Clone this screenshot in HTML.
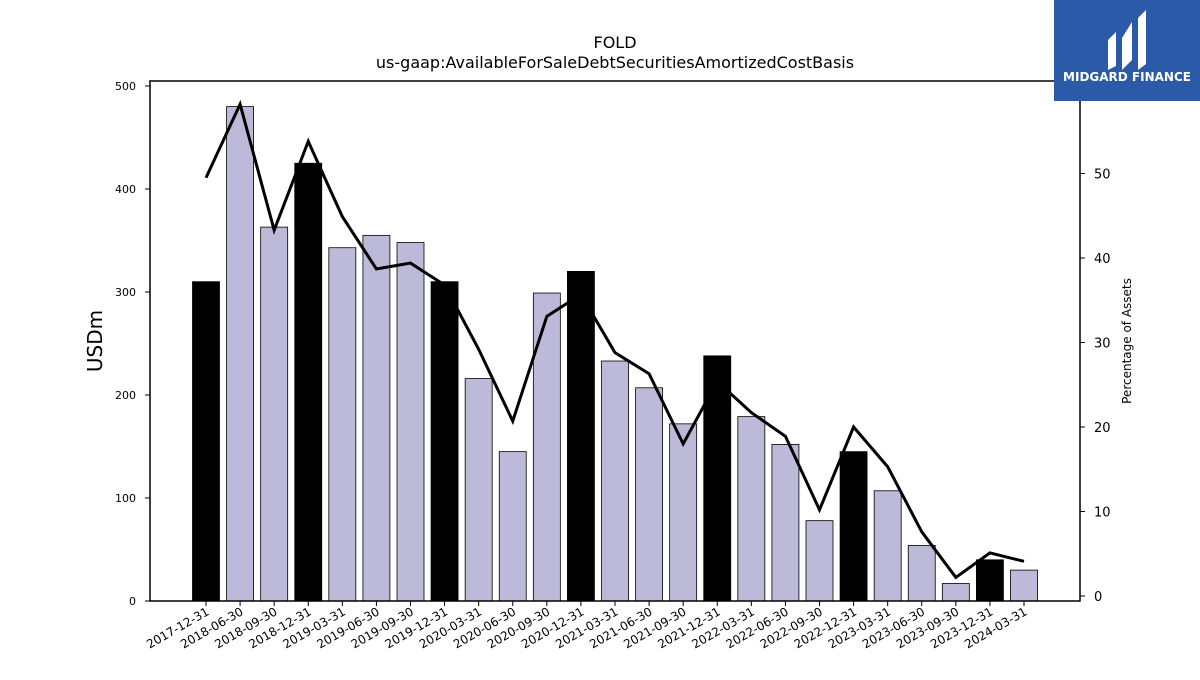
<!DOCTYPE html>
<html><head><meta charset="utf-8"><style>
body{margin:0;background:#fff;font-family:"Liberation Sans","DejaVu Sans",sans-serif}
svg text{font-family:"DejaVu Sans","Liberation Sans",sans-serif}
</style></head><body>
<svg id="chart" width="1200" height="675" xmlns="http://www.w3.org/2000/svg">
<rect width="1200" height="675" fill="#fff"/>
<text x="615" y="48" font-size="16" text-anchor="middle">FOLD</text>
<text x="615" y="68" font-size="16" text-anchor="middle">us-gaap:AvailableForSaleDebtSecuritiesAmortizedCostBasis</text>
<g id="bars"></g><g id="xticks"></g><g id="yticks"></g><g id="y2ticks"></g>
<path id="line" fill="none" stroke="#000" stroke-width="3"/>
<rect x="150" y="81" width="930" height="520" fill="none" stroke="#000" stroke-width="1.5"/>
<text transform="translate(102,341) rotate(-90)" font-size="20" text-anchor="middle">USDm</text>
<text transform="translate(1131,341) rotate(-90)" font-size="12" text-anchor="middle">Percentage of Assets</text>
<g>
<rect x="1054" y="0" width="146" height="101" fill="#2a5aa8"/>
<path d="M1108 40 L1116 32 L1116 66 L1108 70 Z M1122 38 L1132 22 L1132 60 L1122 70 Z M1138 18 L1146 10 L1146 64 L1138 70 Z" fill="#fff"/>
<text x="1127" y="81" font-size="12" font-weight="bold" fill="#fff" text-anchor="middle">MIDGARD FINANCE</text>
</g>
</svg>
<script>
const categories=["2017-12-31","2018-06-30","2018-09-30","2018-12-31","2019-03-31","2019-06-30","2019-09-30","2019-12-31","2020-03-31","2020-06-30","2020-09-30","2020-12-31","2021-03-31","2021-06-30","2021-09-30","2021-12-31","2022-03-31","2022-06-30","2022-09-30","2022-12-31","2023-03-31","2023-06-30","2023-09-30","2023-12-31","2024-03-31"];
const values=[310,480,363,425,343,355,348,310,216,145,299,320,233,207,172,238,179,152,78,145,107,54,17,40,30];
const percents=[49.5,58.2,43.3,53.8,44.9,38.7,39.4,36.8,29.2,20.7,33.1,35.7,28.8,26.3,18.0,25.4,21.7,18.9,10.2,20.0,15.3,7.6,2.2,5.1,4.1];
const yTicks=[0,100,200,300,400,500];
const y2Ticks=[0,10,20,30,40,50];
const NS="http://www.w3.org/2000/svg";
const x=i=>206+i*(1024-206)/(categories.length-1);
const y=v=>601-v*1.03;
const y2=v=>596-v*8.45;
function mk(t,a,p){const e=document.createElementNS(NS,t);for(const k in a)e.setAttribute(k,a[k]);p.appendChild(e);return e;}
const bars=document.getElementById('bars'),xt=document.getElementById('xticks'),yt=document.getElementById('yticks'),y2t=document.getElementById('y2ticks');
categories.forEach((c,i)=>{
 const q4=c.endsWith('12-31');
 const r=mk('rect',{x:x(i)-13.5,y:y(values[i]),width:27,height:values[i]*1.03,fill:q4?'#000':'#bdbad9',stroke:'#000','stroke-width':0.8},bars);
 
 
 mk('line',{x1:x(i),x2:x(i),y1:601,y2:606,stroke:'#000'},xt);
 const t=mk('text',{x:x(i)+4,y:614,'font-size':12,'text-anchor':'end',transform:`rotate(-30 ${x(i)+4} 614)`},xt);
 t.textContent=c;
 
 
});
yTicks.forEach(v=>{
 mk('line',{x1:145,x2:150,y1:y(v),y2:y(v),stroke:'#000'},yt);
 const t=mk('text',{x:136,y:y(v)+4,'font-size':11,'text-anchor':'end'},yt);
 t.textContent=v;
 
 
});
y2Ticks.forEach(v=>{
 mk('line',{x1:1080,x2:1085,y1:y2(v),y2:y2(v),stroke:'#000'},y2t);
 const t=mk('text',{x:1094,y:y2(v)+5,'font-size':13},y2t);
 t.textContent=v;
 
 
});
document.getElementById('line').setAttribute('d',percents.map((p,i)=>(i?'L':'M')+x(i)+' '+y2(p)).join(' '));
</script>
</body></html>
